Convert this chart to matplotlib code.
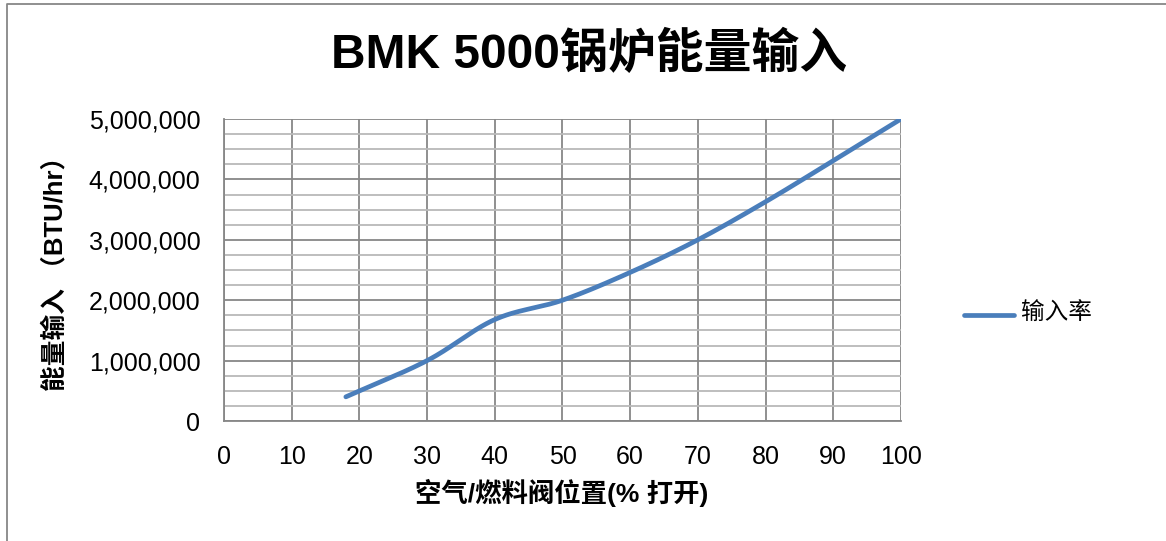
import matplotlib.pyplot as plt
from matplotlib.lines import Line2D
from matplotlib.ticker import MultipleLocator, FuncFormatter
import numpy as np

# Data
valve_position = [18, 30, 40, 50, 60, 70, 80, 90, 100]
energy_input = [400000, 1000000, 1680000, 2000000, 2460000, 3000000, 3630000, 4310000, 5000000]
series_name = '输入率'

title = 'BMK 5000锅炉能量输入'
x_label = '空气/燃料阀位置(% 打开)'
y_label = '能量输入 （BTU/hr）'

fonts = ['Liberation Sans', 'Noto Sans CJK SC', 'DejaVu Sans']
plt.rcParams['font.family'] = fonts


# Excel-like smoothed line (Catmull-Rom through the points)
def smooth(xs, ys, n=40):
    xs = np.asarray(xs, float)
    ys = np.asarray(ys, float)
    px = np.concatenate([[2 * xs[0] - xs[1]], xs, [2 * xs[-1] - xs[-2]]])
    py = np.concatenate([[2 * ys[0] - ys[1]], ys, [2 * ys[-1] - ys[-2]]])
    out_x, out_y = [], []
    for i in range(1, len(px) - 2):
        t = np.linspace(0, 1, n, endpoint=False)
        for p, out in ((px, out_x), (py, out_y)):
            p0, p1, p2, p3 = p[i - 1], p[i], p[i + 1], p[i + 2]
            out.extend(0.5 * ((2 * p1) + (-p0 + p2) * t
                              + (2 * p0 - 5 * p1 + 4 * p2 - p3) * t ** 2
                              + (-p0 + 3 * p1 - 3 * p2 + p3) * t ** 3))
    out_x.append(xs[-1])
    out_y.append(ys[-1])
    return out_x, out_y


fig = plt.figure(figsize=(11.66, 5.41), dpi=100)
ax = fig.add_axes([0.1921, 0.2218, 0.5806, 0.5582])

sx, sy = smooth(valve_position, energy_input)
ax.plot(sx, sy, color='#4a7ebb', linewidth=3.4, solid_capstyle='round', zorder=3)

ax.set_xlim(0, 100)
ax.set_ylim(0, 5000000)
ax.xaxis.set_major_locator(MultipleLocator(10))
ax.yaxis.set_major_locator(MultipleLocator(1000000))
ax.yaxis.set_minor_locator(MultipleLocator(250000))
ax.yaxis.set_major_formatter(FuncFormatter(lambda v, p: f'{int(v):,}'))

ax.grid(which='major', color='#878787', linewidth=1.3)
ax.grid(which='minor', axis='y', color='#b9b9b9', linewidth=1.3)
ax.set_axisbelow(True)
for side in ['top', 'right']:
    ax.spines[side].set_visible(False)
for side in ['left', 'bottom']:
    ax.spines[side].set_color('#878787')
    ax.spines[side].set_linewidth(1.3)

ax.tick_params(which='both', length=0, labelsize=18, colors='black')
ax.tick_params(axis='x', pad=17)
ax.tick_params(axis='y', pad=17)

fig.text(0.505, 0.898, title, ha='center', va='center', fontsize=34.5, fontweight='bold')
fig.text(0.482, 0.088, x_label, ha='center', va='center', fontsize=19, fontweight='bold')
fig.text(0.047, 0.505, y_label, ha='center', va='center', fontsize=18.5, fontweight='bold',
         rotation=90)

# legend
fig.add_artist(Line2D([0.827, 0.870], [0.418, 0.418], color='#4a7ebb', linewidth=3.4,
                      solid_capstyle='round'))
fig.text(0.876, 0.42, series_name, ha='left', va='center', fontsize=17)

# chart-area border
fig.add_artist(Line2D([0.006, 0.006, 1.0], [0.0, 0.993, 0.993], color='#878787', linewidth=1.3))

fig.savefig('out.png', dpi=100)
